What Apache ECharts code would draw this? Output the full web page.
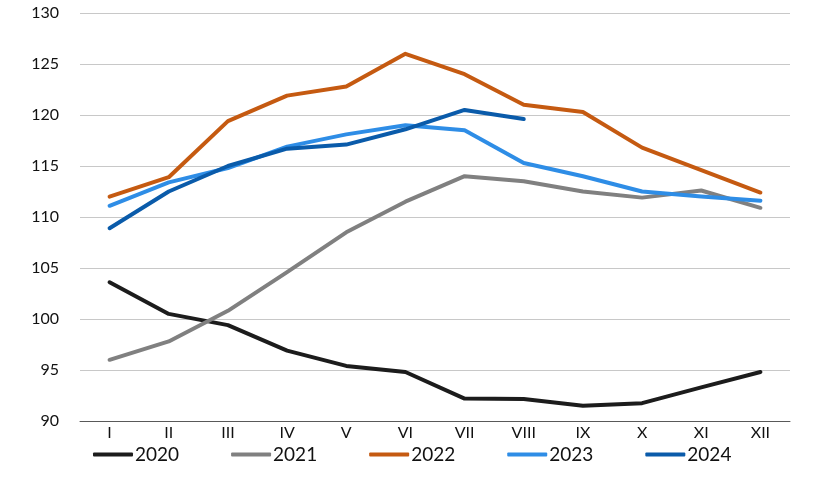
<!DOCTYPE html>
<html>
<head>
<meta charset="utf-8">
<script src="https://cdn.jsdelivr.net/npm/echarts@6/dist/echarts.min.js"></script>
<style>
html,body{margin:0;padding:0;background:#fff;}
#c{width:820px;height:485px;}
</style>
</head>
<body>
<div id="c"></div>
<script>
const categories = ["I","II","III","IV","V","VI","VII","VIII","IX","X","XI","XII"];
const s2020 = [103.6,100.5,99.4,96.9,95.4,94.8,92.2,92.15,91.5,91.75,93.3,94.8];
const s2021 = [96.0,97.8,100.8,104.6,108.5,111.5,114.0,113.5,112.5,111.9,112.6,110.9];
const s2022 = [112.0,113.9,119.4,121.9,122.8,126.0,124.0,121.0,120.3,116.8,114.6,112.4];
const s2023 = [111.1,113.4,114.8,116.9,118.1,119.0,118.5,115.3,114.0,112.5,112.0,111.6];
const s2024 = [108.9,112.5,115.0,116.7,117.1,118.6,120.5,119.6];
const yTicks = {min:90, max:130, interval:5};

const colors = {"2020":"#1c1c1c","2021":"#808080","2022":"#c55a11","2023":"#2e8de6","2024":"#0a5baa"};
const font = "Lato, 'Liberation Sans', sans-serif";

function mk(name, data){
  return {
    name:name, type:'line', data:data, symbol:'none', smooth:false,
    lineStyle:{width:4, color:colors[name], cap:'round', join:'round'},
    itemStyle:{color:colors[name]},
    emphasis:{disabled:true}
  };
}

const chart = echarts.init(document.getElementById('c'), null, {renderer:'canvas'});
chart.setOption({
  animation:false,
  backgroundColor:'#ffffff',
  grid:{left:80, right:30, top:13, bottom:64, containLabel:false},
  legend:{
    left:88, top:440, itemWidth:40, itemHeight:4, itemGap:52,
    icon:'roundRect',
    textStyle:{fontFamily:font, fontSize:19, color:'#111', padding:[0,0,0,-3]},
    data:['2020','2021','2022','2023','2024']
  },
  xAxis:{
    type:'category', data:categories, boundaryGap:true,
    axisLine:{lineStyle:{color:'#595959', width:1}},
    axisTick:{inside:true, length:6, lineStyle:{color:'#595959'}},
    axisLabel:{fontFamily:font, fontSize:16, color:'#111', margin:4},
    splitLine:{show:false}
  },
  yAxis:{
    type:'value', min:yTicks.min, max:yTicks.max, interval:yTicks.interval,
    axisLine:{show:false}, axisTick:{show:false},
    axisLabel:{fontFamily:font, fontSize:16, color:'#111', margin:21},
    splitLine:{lineStyle:{color:'#c8c8c8', width:1}}
  },
  series:[mk('2020',s2020), mk('2021',s2021), mk('2022',s2022), mk('2023',s2023), mk('2024',s2024)]
});
</script>
</body>
</html>
